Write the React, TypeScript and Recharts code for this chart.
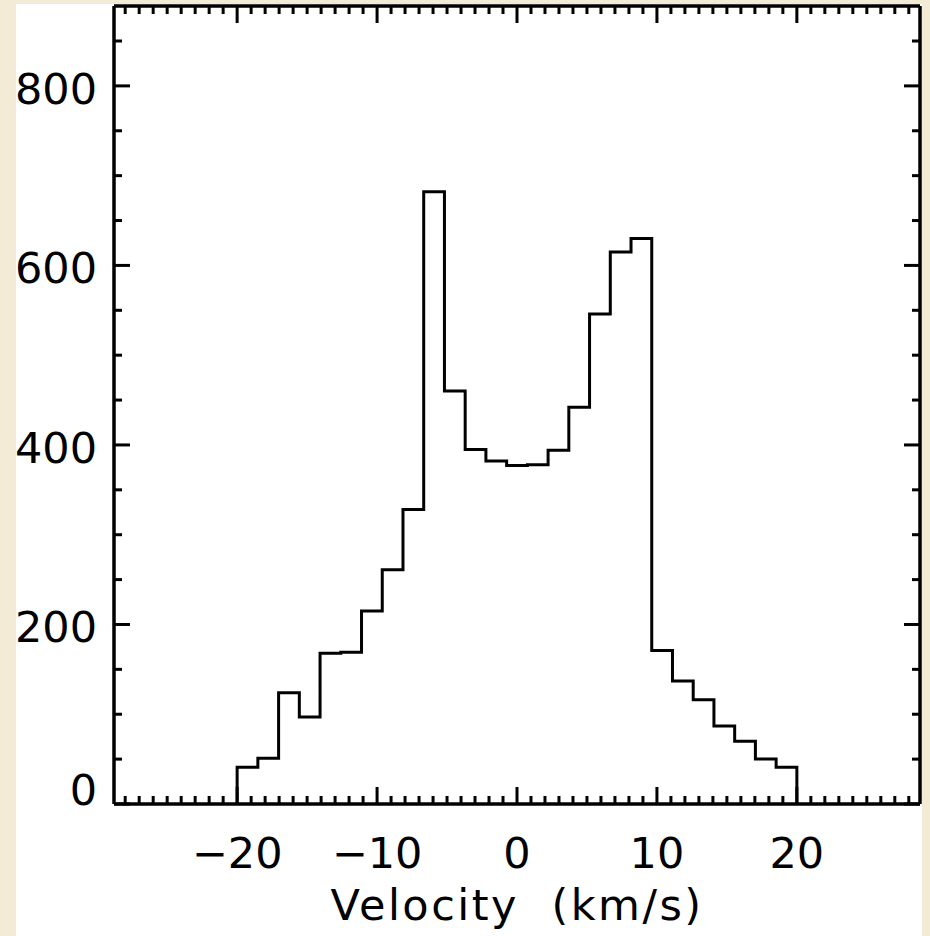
import React from "react";
import { LineChart, Line, XAxis, YAxis } from "recharts";

// histogram: 27 equal bins from -20 to 20 km/s
const BIN_MIN = -20;
const BIN_MAX = 20;
const counts = [
  41, 51, 124, 97, 168, 169, 215, 261, 328, 682, 460, 395, 382, 377, 378, 394,
  442, 546, 615, 630, 171, 137, 116, 87, 70, 50, 41,
];

const xMajorTicks = [-20, -10, 0, 10, 20];
const yMajorTicks = [0, 200, 400, 600, 800];
const X_DOMAIN: [number, number] = [-28.8, 28.8];
const Y_DOMAIN: [number, number] = [0, 889];
const X_TITLE = "Velocity  (km/s)";

const binWidth = (BIN_MAX - BIN_MIN) / counts.length;

// stepBefore outline: rises from 0 at the first edge, drops to 0 at the last
const histData = [
  { v: BIN_MIN, n: 0 },
  ...counts.map((c, i) => ({ v: BIN_MIN + (i + 1) * binWidth, n: c })),
  { v: BIN_MAX, n: 0 },
];

const xTicks: number[] = [];
for (let t = -28; t <= 28; t++) xTicks.push(t);
const yTicks: number[] = [];
for (let t = 0; t <= 850; t += 50) yTicks.push(t);

// layout
const W = 930;
const H = 936;
const MARGIN = { top: 5, right: 9, bottom: 0, left: 14 };
const LEFT_W = 100;
const BOTTOM_H = 132;
const PLOT_LEFT = MARGIN.left + LEFT_W;
const PLOT_BOTTOM = H - MARGIN.bottom - BOTTOM_H;

const FONT = "'DejaVu Sans', sans-serif";
const fmt = (v: number) => (v < 0 ? "\u2212" + Math.abs(v) : String(v));

// labels only
const BottomLabel = ({ x, y, payload }: any) => {
  const v = payload.value;
  if (!xMajorTicks.includes(v)) return <g />;
  return (
    <text x={x} y={y + 64} textAnchor="middle" fontSize={43} fontFamily={FONT} fill="#000">
      {fmt(v)}
    </text>
  );
};

const LeftLabel = ({ x, y, payload }: any) => {
  const v = payload.value;
  if (!yMajorTicks.includes(v)) return <g />;
  return (
    <text x={x - 17} y={v === 0 ? y + 1 : y + 18} textAnchor="end" fontSize={43} fontFamily={FONT} fill="#000">
      {v}
    </text>
  );
};

// inward tick marks on top and bottom edges
const XTickMarks = ({ x, y, payload }: any) => {
  const len = xMajorTicks.includes(payload.value) ? 17 : 8;
  return (
    <g>
      <line x1={x} y1={y} x2={x} y2={y + len} stroke="#000" strokeWidth={3} />
      <line x1={x} y1={PLOT_BOTTOM} x2={x} y2={PLOT_BOTTOM - len} stroke="#000" strokeWidth={3} />
    </g>
  );
};

// inward tick marks on right and left edges
const YTickMarks = ({ x, y, payload }: any) => {
  const len = yMajorTicks.includes(payload.value) ? 16 : 8;
  return (
    <g>
      <line x1={x} y1={y} x2={x - len} y2={y} stroke="#000" strokeWidth={3} />
      <line x1={PLOT_LEFT} y1={y} x2={PLOT_LEFT + len} y2={y} stroke="#000" strokeWidth={3} />
    </g>
  );
};

const TitleLabel = ({ viewBox }: any) => (
  <text
    x={viewBox.x + viewBox.width / 2}
    y={viewBox.y + viewBox.height - 16}
    textAnchor="middle"
    fontSize={43}
    fontFamily={FONT}
    letterSpacing={2.5}
    xmlSpace="preserve"
    style={{ whiteSpace: "pre" }}
    fill="#000"
  >
    {X_TITLE}
  </text>
);

const axisLine = { stroke: "#000", strokeWidth: 3.5 };

export default function App() {
  return (
    <div style={{ position: "absolute", left: 0, top: 0, width: W, height: H, background: "#f3ebd6", overflow: "hidden" }}>
      <div style={{ position: "absolute", left: 16, top: 4, width: 906, height: 932, background: "#fff" }} />
      <div style={{ position: "absolute", left: 0, top: 0 }}>
        <LineChart width={W} height={H} data={histData} margin={MARGIN}>
          <XAxis xAxisId="bottom" dataKey="v" type="number" domain={X_DOMAIN} allowDataOverflow ticks={xTicks}
            interval={0} tickSize={0} tickMargin={0} tickLine={false} tick={<BottomLabel />} height={BOTTOM_H}
            axisLine={axisLine} label={{ content: TitleLabel }} />
          <XAxis xAxisId="top" orientation="top" dataKey="v" type="number" domain={X_DOMAIN} allowDataOverflow
            ticks={xTicks} interval={0} tickSize={0} tickMargin={0} tickLine={false} tick={<XTickMarks />} height={1}
            axisLine={axisLine} />
          <YAxis yAxisId="left" type="number" domain={Y_DOMAIN} allowDataOverflow ticks={yTicks} interval={0}
            tickSize={0} tickMargin={0} tickLine={false} tick={<LeftLabel />} width={LEFT_W} axisLine={axisLine} />
          <YAxis yAxisId="right" orientation="right" type="number" domain={Y_DOMAIN} allowDataOverflow ticks={yTicks}
            interval={0} tickSize={0} tickMargin={0} tickLine={false} tick={<YTickMarks />} width={1}
            axisLine={axisLine} />
          <Line xAxisId="bottom" yAxisId="left" dataKey="n" type="stepBefore" stroke="#000" strokeWidth={3}
            dot={false} activeDot={false} isAnimationActive={false} />
        </LineChart>
      </div>
    </div>
  );
}
